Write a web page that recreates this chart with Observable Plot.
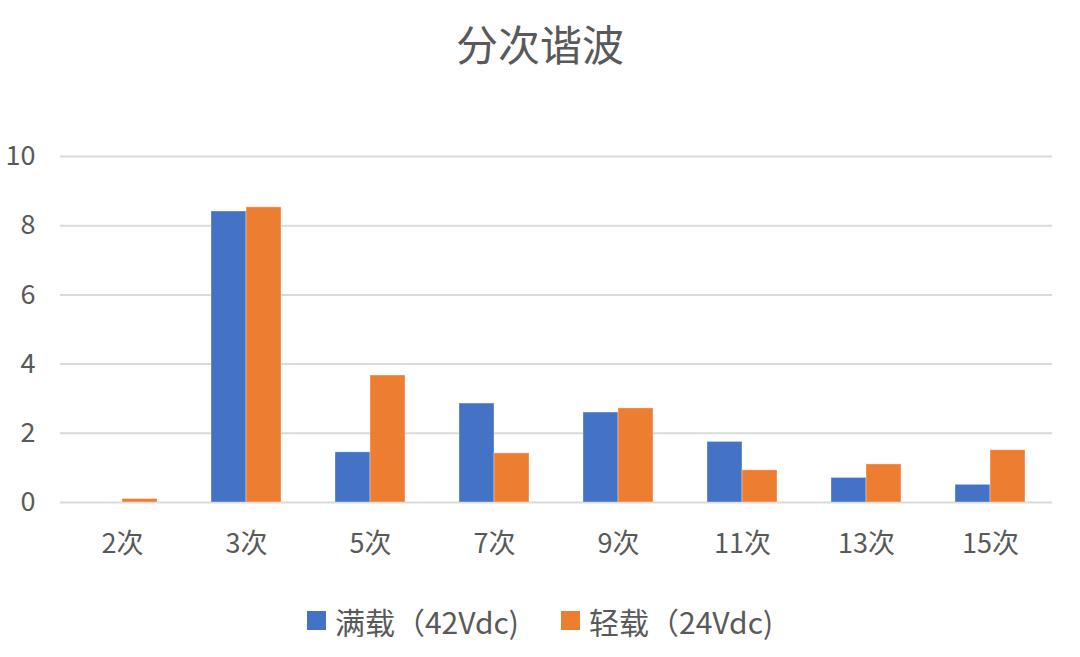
<!DOCTYPE html>
<html>
<head>
<meta charset="utf-8">
<script src="https://cdn.jsdelivr.net/npm/d3@7"></script>
<script src="https://cdn.jsdelivr.net/npm/@observablehq/plot@0.6"></script>
<style>
  html, body { margin: 0; padding: 0; background: #fff; }
  body { width: 1080px; height: 657px; overflow: hidden; font-family: "Noto Sans CJK SC", sans-serif; color: #595959; }
  #title { height: 100px; line-height: 86px; text-align: center; font-size: 42px; color: #595959; }
  #chart svg { display: block; }
  #legend { height: 77px; display: flex; justify-content: center; align-items: center; gap: 42px; font-size: 30px; color: #595959; padding-top: 4px; box-sizing: border-box; }
  .item { display: flex; align-items: center; }
  .sw { width: 19px; height: 19px; margin-right: 9px; }
</style>
</head>
<body>
<div id="title">分次谐波</div>
<div id="chart"></div>
<div id="legend"></div>
<script>
const categories = ["2次", "3次", "5次", "7次", "9次", "11次", "13次", "15次"];
const seriesNames = ["满载（42Vdc)", "轻载（24Vdc)"];
const fullLoad = [0, 8.41, 1.45, 2.86, 2.60, 1.75, 0.71, 0.51];
const lightLoad = [0.10, 8.53, 3.67, 1.42, 2.72, 0.93, 1.10, 1.51];
const colors = ["#4472C4", "#ED7D31"];
const yTicks = [0, 2, 4, 6, 8, 10];

const data = [];
categories.forEach((c, i) => {
  data.push({cat: c, series: seriesNames[0], value: fullLoad[i]});
  data.push({cat: c, series: seriesNames[1], value: lightLoad[i]});
});

const fontFam = '"Noto Sans CJK SC", sans-serif';
const chart = Plot.plot({
  width: 1080,
  height: 480,
  marginLeft: 60,
  marginRight: 28,
  marginTop: 56,
  marginBottom: 78,
  style: {fontFamily: fontFam, fontSize: "27px", color: "#595959", background: "white"},
  fx: {domain: categories, padding: 0, label: null, axis: null},
  x: {domain: seriesNames, paddingInner: 0, paddingOuter: 0.77, axis: null},
  y: {domain: [0, 10], ticks: yTicks, label: null, axis: null},
  color: {domain: seriesNames, range: colors},
  marks: [
    Plot.ruleY(yTicks, {stroke: "#d9d9d9", strokeWidth: 2}),
    Plot.barY(data, {fx: "cat", x: "series", y: "value", fill: "series", stroke: "white", strokeOpacity: 0.35, strokeWidth: 1}),
    Plot.axisY({ticks: yTicks, tickSize: 0, tickPadding: 25, fontSize: 27, label: null, fill: "#595959"}),
    Plot.axisFx({anchor: "bottom", tickSize: 0, tickPadding: 31, fontSize: 27, label: null, fill: "#595959"})
  ]
});
document.getElementById("chart").appendChild(chart);

const legend = document.getElementById("legend");
seriesNames.forEach((s, i) => {
  const item = document.createElement("div");
  item.className = "item";
  const sw = document.createElement("div");
  sw.className = "sw";
  sw.style.background = colors[i];
  const t = document.createElement("span");
  t.textContent = s;
  item.appendChild(sw);
  item.appendChild(t);
  legend.appendChild(item);
});
</script>
</body>
</html>
